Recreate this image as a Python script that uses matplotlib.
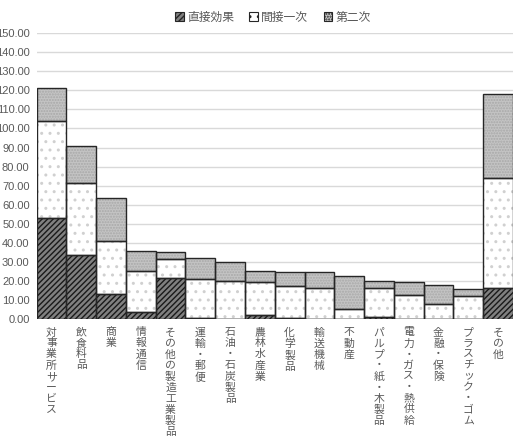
import numpy as np
import matplotlib.pyplot as plt
from matplotlib.patches import Patch

plt.rcParams['font.family'] = ['Noto Sans CJK JP', 'DejaVu Sans']

categories = ["対事業所サービス", "飲食料品", "商業", "情報通信", "その他の製造工業製品",
              "運輸・郵便", "石油・石炭製品", "農林水産業", "化学製品", "輸送機械",
              "不動産", "パルプ・紙・木製品", "電力・ガス・熱供給", "金融・保険",
              "プラスチック・ゴム", "その他"]
direct = [53.2, 33.9, 13.4, 3.5, 21.8, 0.7, 0.3, 2.3, 0.5, 0.3, 0.1, 1.3, 0.3, 0.1, 0.3, 16.5]
indirect1 = [50.8, 37.4, 27.7, 21.5, 9.7, 20.4, 19.7, 17.2, 17.1, 16.0, 5.2, 15.0, 12.5, 7.8, 12.0, 57.5]
second = [17.2, 19.7, 22.5, 11.0, 3.8, 11.2, 10.2, 5.5, 7.0, 8.3, 17.4, 3.9, 6.7, 10.2, 3.5, 44.2]
yticks = np.arange(0, 151, 10)

series = [("直接効果", direct), ("間接一次", indirect1), ("第二次", second)]
styles = {
    "直接効果": dict(face="#808080", hatch="//////", hcolor="#1a1a1a"),
    "間接一次": dict(face="white", hatch="..", hcolor="#d0d0d0"),
    "第二次": dict(face="#c4c4c4", hatch="......", hcolor="#a8a8a8"),
}

fig = plt.figure(figsize=(5.15, 4.36), dpi=100)
ax = fig.add_axes([0.071, 0.268, 0.925, 0.656])

x = np.arange(len(categories))
bottom = np.zeros(len(categories))
handles = []
for name, vals in series:
    st = styles[name]
    vals = np.array(vals)
    ax.bar(x, vals, width=1.0, bottom=bottom, color=st["face"], hatch=st["hatch"],
           edgecolor=st["hcolor"], linewidth=0, zorder=2)
    ax.bar(x, vals, width=1.0, bottom=bottom, fill=False, edgecolor="#262626",
           linewidth=1.0, zorder=3)
    bottom += vals
    handles.append(Patch(facecolor=st["face"], hatch=st["hatch"], edgecolor="#262626",
                         linewidth=0.8))

ax.set_xlim(-0.5, len(categories) - 0.5)
ax.set_ylim(0, 150)
ax.set_yticks(yticks)
ax.set_yticklabels([f"{v:.2f}" for v in yticks],
                   family=["Liberation Sans Narrow", "Liberation Sans"], fontsize=8)
ax.grid(axis="y", color="#d9d9d9", linewidth=1.0, zorder=0)
ax.set_axisbelow(True)
for s in ax.spines.values():
    s.set_visible(False)
ax.tick_params(axis="both", length=0, colors="#595959")
ax.tick_params(axis="y", pad=5)

ax.set_xticks(x)
ax.set_xticklabels(["\n".join(c) for c in categories], va="top", linespacing=1.12,
                   fontsize=7.8)
ax.tick_params(axis="x", pad=6)

fig.legend(handles, [s[0] for s in series], loc="upper center", bbox_to_anchor=(0.53, 1.0),
           ncol=3, frameon=False, fontsize=8.5, handlelength=0.7, handleheight=0.7,
           columnspacing=1.3, handletextpad=0.3, labelcolor="#595959")

fig.savefig("out.png", dpi=100)
